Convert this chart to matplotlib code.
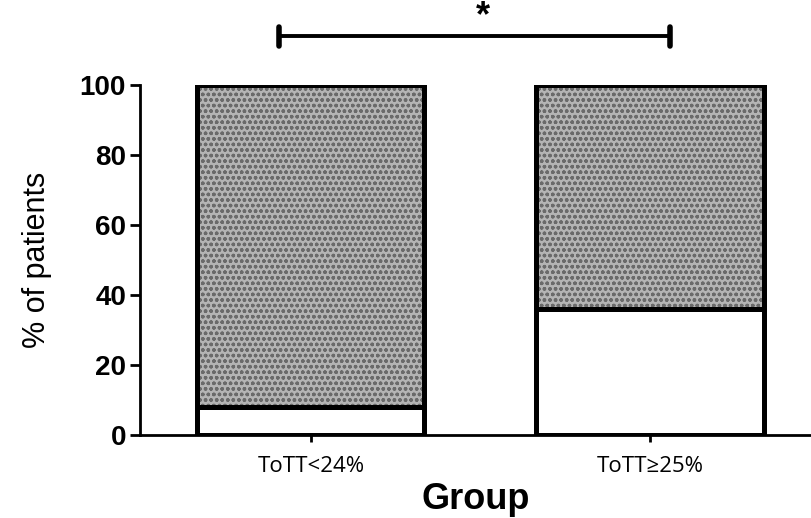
import matplotlib.pyplot as plt
import numpy as np

# data
groups = ['ToTT<24%', 'ToTT\u226525%']
pct_white = [8, 36]
pct_hatched = [92, 64]
y_ticks = [0, 20, 40, 60, 80, 100]

plt.rcParams['font.family'] = ['Liberation Sans', 'DejaVu Sans']

fig = plt.figure(figsize=(8.11, 5.18), dpi=100)
ax = fig.add_axes([0.1726, 0.1602, 0.8274, 0.6756])

x = np.arange(len(groups))
width = 0.67

# lower (white) part
ax.bar(x, pct_white, width, color='white', edgecolor='black', linewidth=3.6, zorder=2)
# upper (dotted grey) part: hatch drawn first, black frame on top
ax.bar(x, pct_hatched, width, bottom=pct_white, color='#b4b4b4', edgecolor='#6a6a6a',
       hatch='ooo', linewidth=0, zorder=2)
ax.bar(x, pct_hatched, width, bottom=pct_white, fill=False, edgecolor='black',
       linewidth=3.6, zorder=3)

ax.set_xlim(-0.504, 1.475)
ax.set_ylim(0, 100)
ax.set_yticks(y_ticks)
ax.set_yticklabels([str(v) for v in y_ticks], fontsize=20, fontweight='bold')
ax.set_xticks(x)
ax.set_xticklabels(groups, fontsize=16, family=['Open Sans', 'DejaVu Sans'])
ax.tick_params(axis='y', width=2, length=7, pad=3)
ax.tick_params(axis='x', width=2, length=5, pad=10)

for s in ['top', 'right']:
    ax.spines[s].set_visible(False)
ax.spines['left'].set_linewidth(2)
ax.spines['bottom'].set_linewidth(2)

ax.set_ylabel('% of patients', fontsize=22, labelpad=20)
ax.set_xlabel('Group', fontsize=26, fontweight='bold', labelpad=4)

# significance bracket
yb = 114
ax.plot([-0.094, 1.059], [yb, yb], color='black', lw=2.8, clip_on=False,
        solid_capstyle='butt')
for xe in [-0.094, 1.059]:
    ax.plot([xe, xe], [yb - 2.7, yb + 2.7], color='black', lw=4, clip_on=False,
            solid_capstyle='round')
ax.text(0.507, yb + 0.5, '*', ha='center', va='bottom', fontsize=26,
        fontweight='bold', clip_on=False)

fig.savefig('out.png', dpi=100)
